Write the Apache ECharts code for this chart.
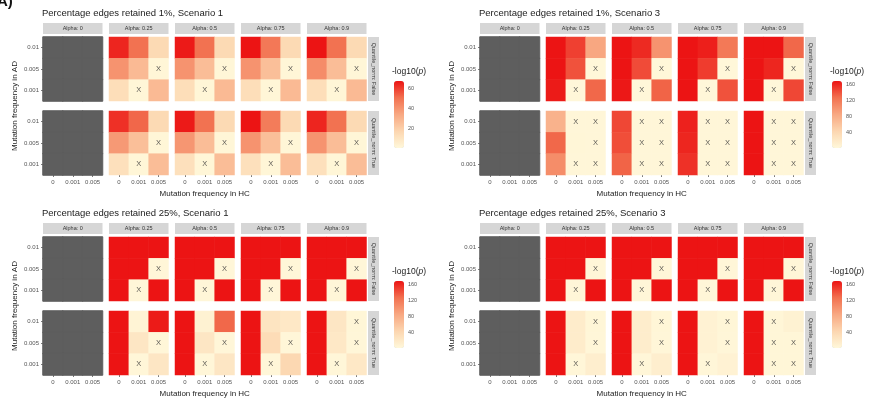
<!DOCTYPE html>
<html><head><meta charset="utf-8">
<script src="https://cdn.jsdelivr.net/npm/echarts@6/dist/echarts.min.js"></script>
<style>html,body{margin:0;padding:0;background:#fff}#c{width:871px;height:408px}</style>
</head><body><div id="c"></div>
<script>
// ---------- categories ----------
const hcFreq = ['0', '0.001', '0.005'];          // x axis (Mutation frequency in HC)
const adFreq = ['0.001', '0.005', '0.01'];       // y axis bottom -> top (Mutation frequency in AD)
const alphaLabels = ['Alpha: 0', 'Alpha: 0.25', 'Alpha: 0.5', 'Alpha: 0.75', 'Alpha: 0.9'];
const qnLabels = ['Quantile_norm: False', 'Quantile_norm: True'];
const panelTitles = [
  'Percentage edges retained 1%, Scenario 1',
  'Percentage edges retained 1%, Scenario 3',
  'Percentage edges retained 25%, Scenario 1',
  'Percentage edges retained 25%, Scenario 3'
];
const legendMax = [67, 168, 168, 168];
const legendTicks = [[20, 40, 60], [40, 80, 120, 160], [40, 80, 120, 160], [40, 80, 120, 160]];

// ---------- values: -log10(p); matrices rows top->bottom = AD 0.01, 0.005, 0.001; cols = HC 0, 0.001, 0.005; null = NA ----------
const NA = [[null, null, null], [null, null, null], [null, null, null]];
const p1False = [NA, [[64, 50, 15], [40, 27, 1], [13, 1, 27]], [[66, 50, 15], [40, 26, 1], [13, 1, 27]], [[67, 48, 15], [40, 25, 1], [13, 1, 27]], [[67, 50, 15], [42, 26, 1], [13, 1, 27]]];
const p1True  = [NA, [[62, 52, 15], [38, 25, 1], [12, 1, 26]], [[66, 50, 15], [39, 26, 1], [12, 1, 26]], [[67, 47, 15], [40, 25, 1], [12, 1, 26]], [[64, 50, 15], [40, 26, 1], [12, 1, 26]]];
const p2False = [NA, [[168, 148, 85], [168, 140, 1], [165, 1, 130]], [[168, 158, 100], [168, 143, 1], [166, 1, 132]], [[168, 163, 120], [168, 150, 1], [168, 1, 140]], [[168, 168, 130], [168, 160, 1], [168, 1, 145]]];
const p2True  = [NA, [[75, 2, 2], [130, 3, 2], [105, 2, 2]], [[145, 2, 2], [142, 2, 2], [132, 2, 2]], [[162, 2, 2], [160, 2, 2], [155, 2, 2]], [[168, 2, 2], [168, 2, 2], [168, 2, 2]]];
const p3False = [NA, [[168, 168, 168], [168, 168, 2], [168, 2, 168]], [[168, 168, 168], [168, 168, 2], [168, 2, 168]], [[168, 168, 168], [168, 168, 2], [168, 2, 168]], [[168, 168, 168], [168, 168, 2], [168, 2, 168]]];
const p3True  = [NA, [[168, 5, 165], [168, 22, 2], [168, 2, 22]], [[168, 8, 130], [168, 22, 2], [168, 2, 22]], [[168, 25, 20], [168, 35, 2], [168, 2, 40]], [[168, 22, 3], [168, 20, 2], [168, 2, 20]]];
const p4False = [NA, [[168, 168, 168], [168, 168, 2], [168, 2, 168]], [[168, 168, 168], [168, 168, 2], [168, 2, 168]], [[168, 168, 168], [168, 168, 2], [168, 2, 168]], [[168, 168, 168], [168, 168, 2], [168, 2, 168]]];
const p4True  = [NA, [[168, 15, 3], [168, 15, 2], [168, 2, 12]], [[168, 14, 3], [168, 14, 2], [168, 2, 12]], [[168, 7, 3], [168, 7, 2], [168, 2, 7]], [[168, 3, 8], [168, 3, 3], [168, 3, 3]]];

// ---------- "X" marks (1 = marked) ----------
const X0 = [[0, 0, 0], [0, 0, 0], [0, 0, 0]];
const XD = [[0, 0, 0], [0, 0, 1], [0, 1, 0]];
const p1FalseX = [X0, XD, XD, XD, XD];
const p1TrueX  = [X0, XD, XD, XD, XD];
const p2FalseX = [X0, XD, XD, XD, XD];
const p2TrueX  = [X0, [[0, 1, 1], [0, 0, 1], [0, 1, 1]], [[0, 1, 1], [0, 1, 1], [0, 1, 1]], [[0, 1, 1], [0, 1, 1], [0, 1, 1]], [[0, 1, 1], [0, 1, 1], [0, 1, 1]]];
const p3FalseX = [X0, XD, XD, XD, XD];
const p3TrueX  = [X0, XD, XD, XD, [[0, 0, 1], [0, 0, 1], [0, 1, 0]]];
const p4FalseX = [X0, XD, XD, XD, XD];
const p4TrueX  = [X0, [[0, 0, 1], [0, 0, 1], [0, 1, 0]], [[0, 0, 1], [0, 0, 1], [0, 1, 0]], [[0, 0, 1], [0, 0, 1], [0, 1, 0]], [[0, 1, 0], [0, 1, 1], [0, 1, 1]]];

const panels = [
  { vals: [p1False, p1True], marks: [p1FalseX, p1TrueX] },
  { vals: [p2False, p2True], marks: [p2FalseX, p2TrueX] },
  { vals: [p3False, p3True], marks: [p3FalseX, p3TrueX] },
  { vals: [p4False, p4True], marks: [p4FalseX, p4TrueX] }
];

// ---------- layout ----------
const FONT = 'Liberation Sans, Arial, sans-serif';
const origins = [{ x: 43, y: 37 }, { x: 480, y: 37 }, { x: 43, y: 237 }, { x: 480, y: 237 }];
const legendPos = [{ x: 394, y: 81 }, { x: 832, y: 81 }, { x: 394, y: 281 }, { x: 832, y: 281 }];
const FACET_W = 59.5, STEP = 66, ROW_H = 64, ROW_GAP = 10, BAR_H = 67, BAR_W = 10;
const palette = ['#FFF8DA', '#FCD6B0', '#F8A882', '#F27150', '#EC1414'];
const NA_COLOR = '#5E5E5E';

const grids = [], xAxes = [], yAxes = [], series = [], graphics = [], visualMaps = [];
const naSeries = [];

panels.forEach((P, pi) => {
  const o = origins[pi];
  const valSeries = [];
  for (let r = 0; r < 2; r++) {
    for (let c = 0; c < 5; c++) {
      const gi = grids.length;
      const left = o.x + c * STEP, top = o.y + r * (ROW_H + ROW_GAP);
      grids.push({ left, top, width: FACET_W, height: ROW_H });
      xAxes.push({
        gridIndex: gi, type: 'category', data: hcFreq,
        axisLine: { show: false }, splitLine: { show: false },
        axisTick: { show: r === 1, length: 2, alignWithLabel: true, lineStyle: { color: '#444', width: 0.7 } },
        axisLabel: { show: r === 1, interval: 0, fontSize: 6, color: '#555', margin: 4, fontFamily: FONT, hideOverlap: false }
      });
      yAxes.push({
        gridIndex: gi, type: 'category', data: adFreq,
        axisLine: { show: false }, splitLine: { show: false },
        axisTick: { show: c === 0, length: 2, alignWithLabel: true, lineStyle: { color: '#444', width: 0.7 } },
        axisLabel: { show: c === 0, interval: 0, fontSize: 6, color: '#555', margin: 4, fontFamily: FONT }
      });
      const m = P.vals[r][c], mk = P.marks[r][c];
      const data = [], naData = [], xData = [];
      for (let i = 0; i < 3; i++) for (let j = 0; j < 3; j++) {
        const yi = 2 - i;
        if (m[i][j] === null) naData.push([j, yi, 0]);
        else data.push([j, yi, m[i][j]]);
        if (mk[i][j]) xData.push([hcFreq[j], adFreq[yi]]);
      }
      if (data.length) {
        valSeries.push(series.length);
        series.push({ type: 'heatmap', xAxisIndex: gi, yAxisIndex: gi, data, silent: true, emphasis: { disabled: true } });
      }
      if (naData.length) {
        naSeries.push(series.length);
        series.push({ type: 'heatmap', xAxisIndex: gi, yAxisIndex: gi, data: naData, silent: true, emphasis: { disabled: true },
          itemStyle: { borderColor: NA_COLOR, borderWidth: 1 } });
      }
      if (xData.length) {
        series.push({
          type: 'scatter', xAxisIndex: gi, yAxisIndex: gi, data: xData, silent: true,
          symbolSize: 1, itemStyle: { color: 'rgba(0,0,0,0)' },
          label: { show: true, formatter: 'X', position: 'inside', fontSize: 7.5, color: '#333', fontFamily: FONT }
        });
      }
      // top strips
      if (r === 0) {
        graphics.push({ type: 'rect', shape: { x: left, y: o.y - 14, width: FACET_W, height: 11 }, style: { fill: '#D6D6D6' }, silent: true });
        graphics.push({ type: 'text', x: left + FACET_W / 2, y: o.y - 8.5, style: { text: alphaLabels[c], fontSize: 5.5, fill: '#333', align: 'center', verticalAlign: 'middle', fontFamily: FONT }, silent: true });
      }
    }
    // right strips
    const sx = o.x + 4 * STEP + FACET_W + 1.5, sy = o.y + r * (ROW_H + ROW_GAP);
    graphics.push({ type: 'rect', shape: { x: sx, y: sy, width: 11, height: ROW_H }, style: { fill: '#D6D6D6' }, silent: true });
    graphics.push({ type: 'text', x: sx + 5.5, y: sy + ROW_H / 2, rotation: -Math.PI / 2, style: { text: qnLabels[r], fontSize: 5.5, fill: '#333', align: 'center', verticalAlign: 'middle', fontFamily: FONT }, silent: true });
  }
  // colour scale
  const lp = legendPos[pi];
  visualMaps.push({
    type: 'continuous', min: 0, max: legendMax[pi], show: true, calculable: false, hoverLink: false,
    seriesIndex: valSeries, orient: 'vertical', left: lp.x, top: lp.y, padding: 0,
    itemWidth: BAR_W, itemHeight: BAR_H, text: null, inRange: { color: palette }
  });
  legendTicks[pi].forEach(v => {
    const ty = lp.y + (1 - v / legendMax[pi]) * BAR_H;
    graphics.push({ type: 'text', x: lp.x + BAR_W + 4, y: ty, style: { text: String(v), fontSize: 5.5, fill: '#555', align: 'left', verticalAlign: 'middle', fontFamily: FONT }, silent: true });
    graphics.push({ type: 'line', shape: { x1: lp.x, y1: ty, x2: lp.x + 2, y2: ty }, style: { stroke: '#fff', lineWidth: 0.6 }, silent: true });
    graphics.push({ type: 'line', shape: { x1: lp.x + BAR_W - 2, y1: ty, x2: lp.x + BAR_W, y2: ty }, style: { stroke: '#fff', lineWidth: 0.6 }, silent: true });
  });
  graphics.push({ type: 'text', x: lp.x - 2, y: lp.y - 9, style: { text: '-log10({i|p})', rich: { i: { fontStyle: 'italic', fontSize: 8.5, fontFamily: FONT, fill: '#222' } }, fontSize: 8.5, fill: '#222', align: 'left', verticalAlign: 'middle', fontFamily: FONT }, silent: true });
  // panel title
  graphics.push({ type: 'text', x: o.x - 1, y: o.y - 24, style: { text: panelTitles[pi], fontSize: 9.5, fill: '#222', align: 'left', verticalAlign: 'middle', fontFamily: FONT }, silent: true });
  // axis titles
  graphics.push({ type: 'text', x: o.x + (4 * STEP + FACET_W) / 2, y: o.y + 157, style: { text: 'Mutation frequency in HC', fontSize: 8, fill: '#222', align: 'center', verticalAlign: 'middle', fontFamily: FONT }, silent: true });
  graphics.push({ type: 'text', x: o.x - 28, y: o.y + (2 * ROW_H + ROW_GAP) / 2, rotation: Math.PI / 2, style: { text: 'Mutation frequency in AD', fontSize: 8, fill: '#222', align: 'center', verticalAlign: 'middle', fontFamily: FONT }, silent: true });
});

visualMaps.push({ type: 'continuous', min: 0, max: 1, show: false, seriesIndex: naSeries, inRange: { color: [NA_COLOR, NA_COLOR] } });
graphics.push({ type: 'text', x: -3, y: 9, style: { text: 'A)', fontSize: 15, fontWeight: 'bold', fill: '#111', align: 'left', verticalAlign: 'bottom', fontFamily: FONT }, silent: true });

const chart = echarts.init(document.getElementById('c'));
chart.setOption({
  backgroundColor: '#fff', animation: false,
  grid: grids, xAxis: xAxes, yAxis: yAxes, visualMap: visualMaps, series, graphic: graphics
});
</script></body></html>
